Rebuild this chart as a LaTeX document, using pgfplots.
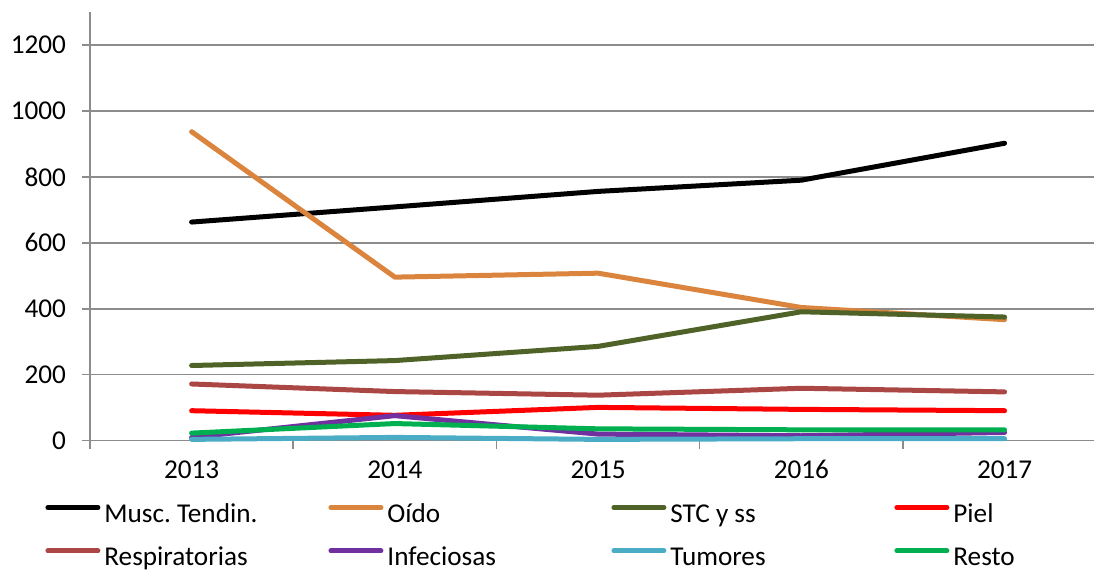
\documentclass[border=0pt]{standalone}
\usepackage{pgfplots}
\pgfplotsset{compat=1.18}
\usepackage{fontspec}
\setmainfont{Carlito}
\frenchspacing
\definecolor{gridgray}{HTML}{8C8C8C}
\definecolor{cOido}{HTML}{DB843D}
\definecolor{cSTC}{HTML}{4F6228}
\definecolor{cPiel}{HTML}{FF0000}
\definecolor{cResp}{HTML}{AA4643}
\definecolor{cInf}{HTML}{7030A0}
\definecolor{cTum}{HTML}{4BACC6}
\definecolor{cResto}{HTML}{00B050}
\newcommand{\lab}[1]{\makebox[112pt][l]{\rule[-7.35pt]{0pt}{23.5pt}#1}}
\begin{document}
\begin{tikzpicture}
\begin{axis}[
  at={(0,0)}, anchor=south west,
  scale only axis, width=502pt, height=214.35pt,
  xmin=-0.5, xmax=4.44, ymin=0, ymax=1300,
  clip=false,
  axis x line*=bottom, axis y line*=left,
  axis line style={draw=gridgray, line width=0.75pt, -},
  xtick={-0.5,0.5,1.5,2.5,3.5}, xticklabels={},
  extra x ticks={0,1,2,3,4},
  extra x tick labels={2013,2014,2015,2016,2017},
  extra x tick style={major tick length=0pt},
  xticklabel style={anchor=base, yshift=-18.9pt},
  yticklabel style={xshift=-4.5pt},
  ytick={0,200,...,1200},
  ymajorgrids, grid style={draw=gridgray, line width=0.75pt},
  tick align=outside, major tick length=4pt,
  tick style={draw=gridgray, line width=0.75pt},
  /pgf/number format/assume math mode=true,
  /pgf/number format/1000 sep={},
  tick label style={font=\fontsize{13.6}{16}\selectfont},
  every axis plot/.append style={line width=2.5pt, line cap=round, line join=round},
  legend image code/.code={\draw[#1, line width=2.5pt, line cap=round] (0pt,0pt) -- (25pt,0pt);},
  legend columns=4,
  legend style={at={(axis description cs:-0.0448,-0.1138)}, anchor=north west,
    draw=none, fill=none, inner sep=0pt, row sep=4pt,
    nodes={inner sep=0pt},
    font=\fontsize{13.6}{16}\selectfont,
    /tikz/every odd column/.append style={column sep=2pt}},
  legend cell align=left,
]
\addplot[black] coordinates {(0,663) (1,709) (2,756) (3,790) (4,902)};
\addlegendentry{\lab{Musc. Tendin.}}
\addplot[cOido] coordinates {(0,937) (1,496) (2,508) (3,404) (4,367)};
\addlegendentry{\lab{Oído}}
\addplot[cSTC] coordinates {(0,228) (1,243) (2,286) (3,391) (4,375)};
\addlegendentry{\lab{STC y ss}}
\addplot[cPiel] coordinates {(0,91) (1,77) (2,101) (3,95) (4,91)};
\addlegendentry{\lab{Piel}}
\addplot[cResp] coordinates {(0,172) (1,149) (2,138) (3,159) (4,148)};
\addlegendentry{\lab{Respiratorias}}
\addplot[cInf] coordinates {(0,10) (1,76) (2,20) (3,15) (4,25)};
\addlegendentry{\lab{Infeciosas}}
\addplot[cTum] coordinates {(0,4) (1,10) (2,4) (3,6) (4,6)};
\addlegendentry{\lab{Tumores}}
\addplot[cResto] coordinates {(0,23) (1,52) (2,36) (3,33) (4,33)};
\addlegendentry{\lab{Resto}}
\end{axis}
\pgfresetboundingbox
\useasboundingbox (-45pt,-66.65pt) rectangle (502pt,220.35pt);
\end{tikzpicture}
\end{document}
